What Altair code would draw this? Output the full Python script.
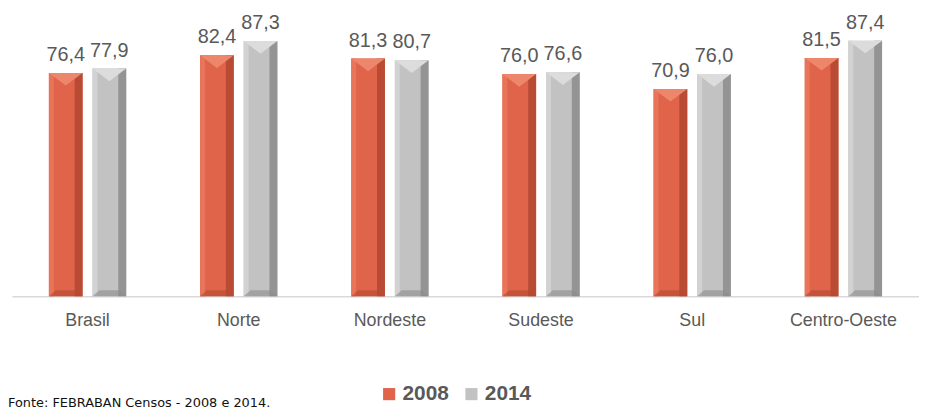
import altair as alt
import pandas as pd

categories = ["Brasil", "Norte", "Nordeste", "Sudeste", "Sul", "Centro-Oeste"]
v2008 = [76.4, 82.4, 81.3, 76.0, 70.9, 81.5]
v2014 = [77.9, 87.3, 80.7, 76.6, 76.0, 87.4]
years = ["2008", "2014"]
source_note = "Fonte: FEBRABAN Censos - 2008 e 2014."

rows = []
for i, c in enumerate(categories):
    rows.append({"cat": c, "year": "2008", "v": v2008[i]})
    rows.append({"cat": c, "year": "2014", "v": v2014[i]})
df = pd.DataFrame(rows)

base_col = {"2008": "#E0644A", "2014": "#C2C2C2"}
dark_col = {"2008": "#B24730", "2014": "#8C8C8C"}
light_col = {"2008": "#E87559", "2014": "#D2D2D2"}
top_col = {"2008": "#EE866B", "2014": "#DCDCDC"}
offs = {"2008": -22, "2014": 22}

FONT = "Liberation Sans"
x_enc = alt.X(
    "cat:N", sort=categories,
    scale=alt.Scale(paddingInner=0, paddingOuter=0),
    axis=alt.Axis(title=None, labelAngle=0, labelFontSize=18, labelColor="#595959",
                  labelFont=FONT, ticks=False, labelPadding=16,
                  domainColor="#D9D9D9", domainWidth=1.5),
)
y_enc = alt.Y("v:Q", scale=alt.Scale(domain=[0, 98]), axis=None)
color_enc = alt.Color(
    "year:N",
    scale=alt.Scale(domain=years, range=[base_col["2008"], base_col["2014"]]),
    legend=alt.Legend(
        title=None, orient="none", direction="horizontal", legendX=370, legendY=377,
        symbolType="square", symbolSize=150, symbolStrokeWidth=0,
        labelFont=FONT, labelFontSize=21, labelFontWeight="bold", labelColor="#595959",
        columnPadding=12, labelOffset=3,
    ),
)

base = alt.Chart(df)
layers = []
tri_down = "M-1,0L1,0L0,0.75Z"
tri_up = "M-1,0L1,0L0.6,-0.35L-0.6,-0.35Z"
for yr in years:
    d = base.transform_filter(alt.datum.year == yr)
    o = offs[yr]
    layers.append(d.mark_bar(width=34, xOffset=o).encode(x=x_enc, y=y_enc, color=color_enc))
    layers.append(d.mark_bar(width=5, xOffset=o - 14.5, color=light_col[yr]).encode(x=x_enc, y=y_enc))
    layers.append(d.mark_bar(width=8, xOffset=o + 13, color=dark_col[yr], opacity=0.85).encode(x=x_enc, y=y_enc))
    layers.append(d.mark_point(shape=tri_down, size=34 * 34, filled=True, opacity=1,
                               color=top_col[yr], xOffset=o, strokeWidth=0)
                  .encode(x=x_enc, y=y_enc))
    layers.append(d.transform_calculate(z="0").mark_point(shape=tri_up, size=34 * 34, filled=True,
                                                          opacity=0.6, color=dark_col[yr], xOffset=o,
                                                          strokeWidth=0)
                  .encode(x=x_enc, y=alt.Y("z:Q", scale=alt.Scale(domain=[0, 98]), axis=None)))
    layers.append(
        d.transform_calculate(lbl="replace(format(datum.v, '.1f'), '.', ',')")
        .mark_text(xOffset=o, dy=-12, baseline="alphabetic", align="center",
                   font=FONT, fontSize=20, color="#595959")
        .encode(x=x_enc, y=y_enc, text="lbl:N")
    )

note = alt.Chart(pd.DataFrame({"t": [source_note]})).mark_text(
    align="left", baseline="alphabetic", font="DejaVu Sans", fontSize=13, color="#111111"
).encode(x=alt.value(-4), y=alt.value(401), text="t:N")
layers.append(note)

chart = alt.layer(*layers).properties(
    width=915, height=289,
    padding={"left": 4, "top": 0, "right": 0, "bottom": 112},
    autosize=alt.AutoSizeParams(type="none"),
).configure_view(stroke=None)

chart.save("out.html", embed_options={"renderer": "svg", "actions": False})
